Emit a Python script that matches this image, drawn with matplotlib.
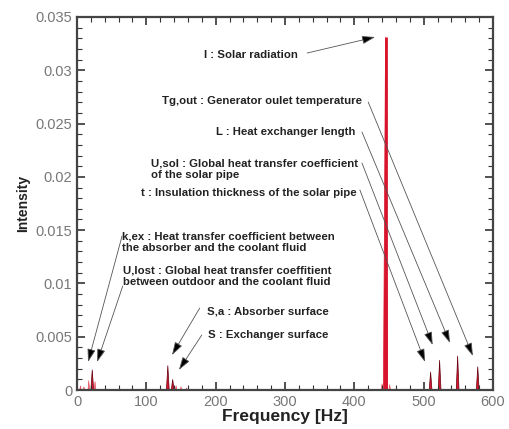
import matplotlib
matplotlib.use('Agg')
import matplotlib.pyplot as plt
from matplotlib.ticker import MultipleLocator

plt.rcParams['font.family'] = ['Liberation Sans', 'DejaVu Sans']

# spectral peaks (Hz, intensity)
peak_freq = [22, 131, 138, 510, 523, 549, 578]
peak_height = [0.0019, 0.0023, 0.0010, 0.0017, 0.0028, 0.0032, 0.0022]
main_freq = 445
main_height = 0.0331
small_freq = [5, 10, 17, 26, 143, 150, 158, 440, 451]
small_height = [0.0004, 0.0003, 0.0009, 0.0008, 0.0004, 0.0003, 0.0002, 0.0006, 0.0005]

xticks = [0, 100, 200, 300, 400, 500, 600]
yticks = [0, 0.005, 0.01, 0.015, 0.02, 0.025, 0.03, 0.035]
ytick_labels = ['0', '0.005', '0.01', '0.015', '0.02', '0.025', '0.03', '0.035']

# label text, text position, alignment, arrow start, arrow end
labels = [
    ('I : Solar radiation', (183, 0.03143), 'left', (332, 0.03162), (430, 0.03312)),
    ('Tg,out : Generator oulet temperature', (411, 0.02712), 'right', (420, 0.02702), (571, 0.00319)),
    ('L : Heat exchanger length', (402, 0.02421), 'right', (411, 0.02421), (538, 0.00441)),
    ('U,sol : Global heat transfer coefficient\nof the solar pipe', (405, 0.0207), 'right', (411, 0.0213), (513, 0.00422)),
    ('t : Insulation thickness of the solar pipe', (403, 0.0185), 'right', (408, 0.01877), (502, 0.00263)),
    ('k,ex : Heat transfer coefficient between\nthe absorber and the coolant fluid', (65, 0.01384), 'left', (65, 0.01445), (16, 0.00263)),
    ('U,lost : Global heat transfer coeffitient\nbetween outdoor and the coolant fluid', (66, 0.0107), 'left', (66, 0.00976), (29, 0.00263)),
    ('S,a : Absorber surface', (188, 0.00732), 'left', (177, 0.00769), (137, 0.00328)),
    ('S : Exchanger surface', (189, 0.00516), 'left', (180, 0.00516), (147, 0.00188)),
]

fig = plt.figure(figsize=(5.09, 4.29), dpi=100)
ax = fig.add_axes([77 / 509, 1 - 390 / 429, 416 / 509, 373 / 429])

red = '#d8142c'
for f, h in zip(small_freq, small_height):
    ax.fill([f - 1.2, f, f + 1.2], [0, h, 0], color='#e85060', lw=0.4)
for f, h in zip(peak_freq, peak_height):
    ax.fill([f - 2, f, f + 2], [0, h, 0], facecolor=red, edgecolor='#600010', lw=0.5)
ax.fill([main_freq - 3, main_freq, main_freq + 3], [0, main_height, 0], facecolor=red, edgecolor=red, lw=0.5)
ax.vlines(main_freq, 0, main_height, color=red, lw=2.0)

for text, pos, ha, start, end in labels:
    ax.text(pos[0], pos[1], text, ha=ha, va='center', multialignment='left',
            fontsize=8.2, fontweight='bold', color='#222222', linespacing=1.15)
    ax.annotate('', xy=end, xytext=start,
                arrowprops=dict(arrowstyle='-|>,head_length=0.8,head_width=0.25',
                                fc='black', ec='#555555', lw=0.6, shrinkA=0, shrinkB=0))

ax.set_xlim(0, 600)
ax.set_ylim(0, 0.035)
ax.set_xticks(xticks)
ax.set_yticks(yticks)
ax.set_yticklabels(ytick_labels)
ax.xaxis.set_minor_locator(MultipleLocator(20))
ax.yaxis.set_minor_locator(MultipleLocator(0.001))
ax.tick_params(which='both', direction='in', top=True, right=True, colors='#333333',
               labelcolor='#777777', labelsize=10.5)
ax.tick_params(which='major', length=6, width=1.2)
ax.tick_params(which='minor', length=3.5, width=0.8)
for sp in ax.spines.values():
    sp.set_linewidth(1.6)
    sp.set_color('#444444')

ax.set_xlabel('Frequency [Hz]', fontsize=12.5, fontweight='bold', color='#222222', labelpad=0)
ax.set_ylabel('Intensity', fontsize=10, fontweight='bold', color='#222222', labelpad=4)

fig.savefig('out.png', dpi=100)
